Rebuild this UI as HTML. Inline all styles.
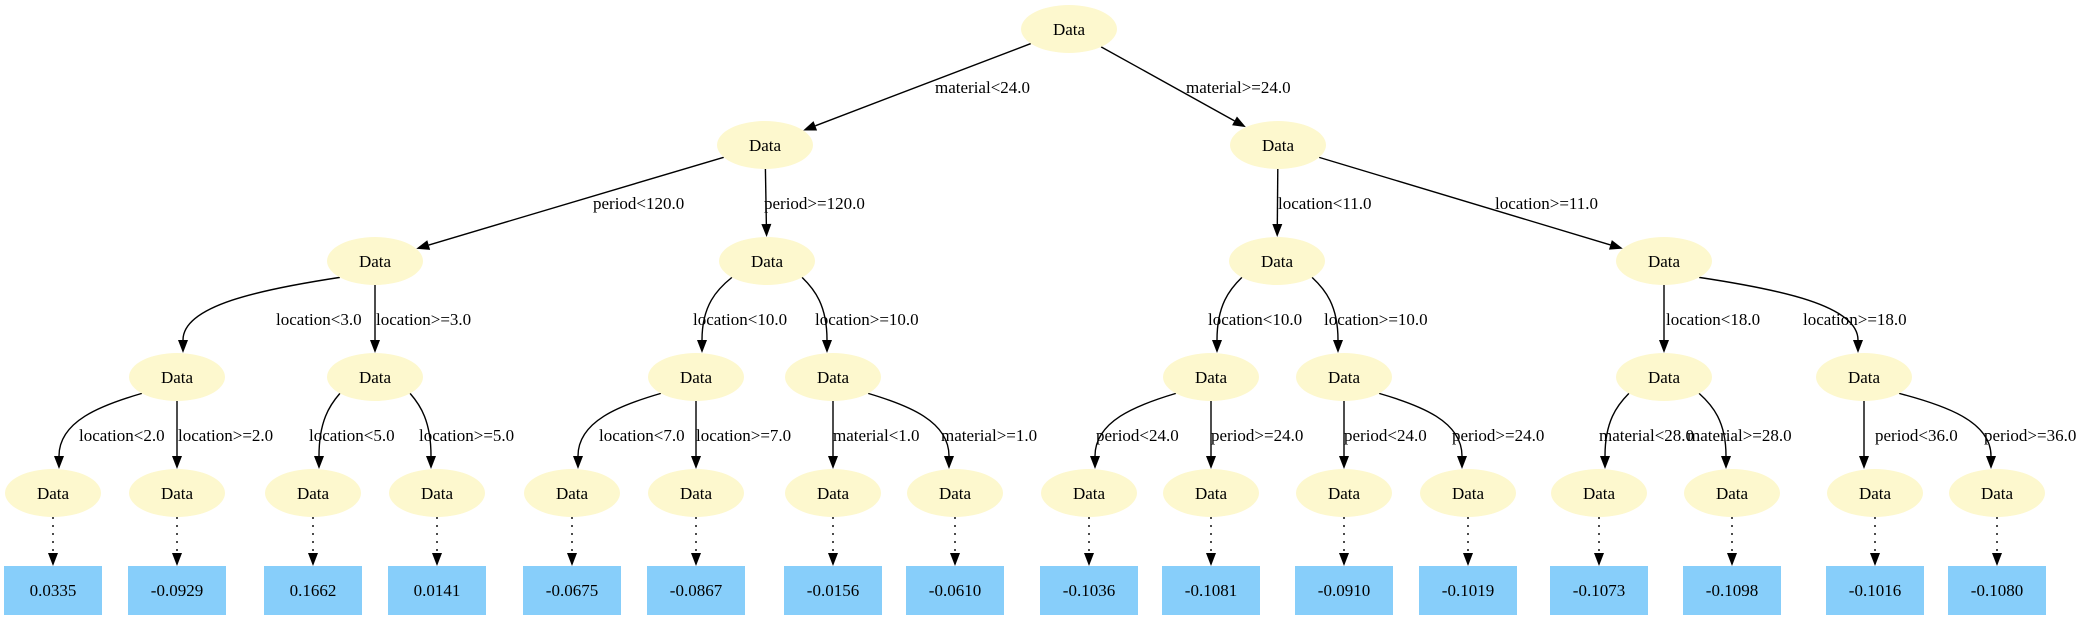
<!DOCTYPE html>
<html><head><meta charset="utf-8"><style>
html,body{margin:0;padding:0;background:#fff;}
svg{display:block;}
text{font-family:"Liberation Serif",serif;font-size:17px;fill:#000;}
.n{fill:#fdf8ce;}
.b{fill:#87cefa;}
</style></head><body>
<svg id="s" width="2091" height="620" viewBox="0 0 2091 620" xmlns="http://www.w3.org/2000/svg">
<g id="edges" stroke="#000" stroke-width="1.4" fill="none"></g>
<g id="heads" fill="#000"></g>
<g id="nodes">
<ellipse class="n" cx="1069" cy="29" rx="48" ry="24"/>
<ellipse class="n" cx="765" cy="145" rx="48" ry="24"/>
<ellipse class="n" cx="1278" cy="145" rx="48" ry="24"/>
<ellipse class="n" cx="375" cy="261" rx="48" ry="24"/>
<ellipse class="n" cx="767" cy="261" rx="48" ry="24"/>
<ellipse class="n" cx="1277" cy="261" rx="48" ry="24"/>
<ellipse class="n" cx="1664" cy="261" rx="48" ry="24"/>
<ellipse class="n" cx="177" cy="377" rx="48" ry="24"/>
<ellipse class="n" cx="375" cy="377" rx="48" ry="24"/>
<ellipse class="n" cx="696" cy="377" rx="48" ry="24"/>
<ellipse class="n" cx="833" cy="377" rx="48" ry="24"/>
<ellipse class="n" cx="1211" cy="377" rx="48" ry="24"/>
<ellipse class="n" cx="1344" cy="377" rx="48" ry="24"/>
<ellipse class="n" cx="1664" cy="377" rx="48" ry="24"/>
<ellipse class="n" cx="1864" cy="377" rx="48" ry="24"/>
<ellipse class="n" cx="53" cy="493" rx="48" ry="24"/>
<ellipse class="n" cx="177" cy="493" rx="48" ry="24"/>
<ellipse class="n" cx="313" cy="493" rx="48" ry="24"/>
<ellipse class="n" cx="437" cy="493" rx="48" ry="24"/>
<ellipse class="n" cx="572" cy="493" rx="48" ry="24"/>
<ellipse class="n" cx="696" cy="493" rx="48" ry="24"/>
<ellipse class="n" cx="833" cy="493" rx="48" ry="24"/>
<ellipse class="n" cx="955" cy="493" rx="48" ry="24"/>
<ellipse class="n" cx="1089" cy="493" rx="48" ry="24"/>
<ellipse class="n" cx="1211" cy="493" rx="48" ry="24"/>
<ellipse class="n" cx="1344" cy="493" rx="48" ry="24"/>
<ellipse class="n" cx="1468" cy="493" rx="48" ry="24"/>
<ellipse class="n" cx="1599" cy="493" rx="48" ry="24"/>
<ellipse class="n" cx="1732" cy="493" rx="48" ry="24"/>
<ellipse class="n" cx="1875" cy="493" rx="48" ry="24"/>
<ellipse class="n" cx="1997" cy="493" rx="48" ry="24"/>
</g>
<g text-anchor="middle">
<text x="1069" y="35">Data</text>
<text x="765" y="151">Data</text><text x="1278" y="151">Data</text>
<text x="375" y="267">Data</text><text x="767" y="267">Data</text><text x="1277" y="267">Data</text><text x="1664" y="267">Data</text>
<text x="177" y="383">Data</text><text x="375" y="383">Data</text><text x="696" y="383">Data</text><text x="833" y="383">Data</text><text x="1211" y="383">Data</text><text x="1344" y="383">Data</text><text x="1664" y="383">Data</text><text x="1864" y="383">Data</text>
<text x="53" y="499">Data</text><text x="177" y="499">Data</text><text x="313" y="499">Data</text><text x="437" y="499">Data</text><text x="572" y="499">Data</text><text x="696" y="499">Data</text><text x="833" y="499">Data</text><text x="955" y="499">Data</text><text x="1089" y="499">Data</text><text x="1211" y="499">Data</text><text x="1344" y="499">Data</text><text x="1468" y="499">Data</text><text x="1599" y="499">Data</text><text x="1732" y="499">Data</text><text x="1875" y="499">Data</text><text x="1997" y="499">Data</text>
</g>
<g id="boxes">
<rect class="b" x="4" y="566" width="98" height="49"/><rect class="b" x="128" y="566" width="98" height="49"/><rect class="b" x="264" y="566" width="98" height="49"/><rect class="b" x="388" y="566" width="98" height="49"/><rect class="b" x="523" y="566" width="98" height="49"/><rect class="b" x="647" y="566" width="98" height="49"/><rect class="b" x="784" y="566" width="98" height="49"/><rect class="b" x="906" y="566" width="98" height="49"/><rect class="b" x="1040" y="566" width="98" height="49"/><rect class="b" x="1162" y="566" width="98" height="49"/><rect class="b" x="1295" y="566" width="98" height="49"/><rect class="b" x="1419" y="566" width="98" height="49"/><rect class="b" x="1550" y="566" width="98" height="49"/><rect class="b" x="1683" y="566" width="98" height="49"/><rect class="b" x="1826" y="566" width="98" height="49"/><rect class="b" x="1948" y="566" width="98" height="49"/>
</g>
<g text-anchor="middle">
<text x="53" y="596">0.0335</text><text x="177" y="596">-0.0929</text><text x="313" y="596">0.1662</text><text x="437" y="596">0.0141</text><text x="572" y="596">-0.0675</text><text x="696" y="596">-0.0867</text><text x="833" y="596">-0.0156</text><text x="955" y="596">-0.0610</text><text x="1089" y="596">-0.1036</text><text x="1211" y="596">-0.1081</text><text x="1344" y="596">-0.0910</text><text x="1468" y="596">-0.1019</text><text x="1599" y="596">-0.1073</text><text x="1732" y="596">-0.1098</text><text x="1875" y="596">-0.1016</text><text x="1997" y="596">-0.1080</text>
</g>
<g>
<text x="935" y="93">material&lt;24.0</text><text x="1186" y="93">material&gt;=24.0</text>
<text x="593" y="209">period&lt;120.0</text><text x="764" y="209">period&gt;=120.0</text><text x="1278" y="209">location&lt;11.0</text><text x="1495" y="209">location&gt;=11.0</text>
<text x="276" y="325">location&lt;3.0</text><text x="376" y="325">location&gt;=3.0</text><text x="693" y="325">location&lt;10.0</text><text x="815" y="325">location&gt;=10.0</text><text x="1208" y="325">location&lt;10.0</text><text x="1324" y="325">location&gt;=10.0</text><text x="1666" y="325">location&lt;18.0</text><text x="1803" y="325">location&gt;=18.0</text>
<text x="79" y="441">location&lt;2.0</text><text x="178" y="441">location&gt;=2.0</text><text x="309" y="441">location&lt;5.0</text><text x="419" y="441">location&gt;=5.0</text><text x="599" y="441">location&lt;7.0</text><text x="696" y="441">location&gt;=7.0</text><text x="833" y="441">material&lt;1.0</text><text x="941" y="441">material&gt;=1.0</text><text x="1096" y="441">period&lt;24.0</text><text x="1211" y="441">period&gt;=24.0</text><text x="1344" y="441">period&lt;24.0</text><text x="1452" y="441">period&gt;=24.0</text><text x="1599" y="441">material&lt;28.0</text><text x="1687" y="441">material&gt;=28.0</text><text x="1875" y="441">period&lt;36.0</text><text x="1984" y="441">period&gt;=36.0</text>
</g>
</svg>
<script>
(function(){
var E=[[1069,29,765,145,1],[1069,29,1278,145,1],[765,145,375,261,1],[765,145,767,261,1],[1278,145,1277,261,1],[1278,145,1664,261,1],
[375,261,177,377],[375,261,375,377],[767,261,696,377],[767,261,833,377],[1277,261,1211,377],[1277,261,1344,377],[1664,261,1664,377],[1664,261,1864,377],
[177,377,53,493],[177,377,177,493],[375,377,313,493],[375,377,437,493],[696,377,572,493],[696,377,696,493],[833,377,833,493],[833,377,955,493],
[1211,377,1089,493],[1211,377,1211,493],[1344,377,1344,493],[1344,377,1468,493],[1664,377,1599,493],[1664,377,1732,493],[1864,377,1864,493],[1864,377,1997,493]];
var ns="http://www.w3.org/2000/svg",eg=document.getElementById('edges'),hg=document.getElementById('heads');
var rx=48,ry=24,AL=13,AW=5;
function bnd(cx,cy,dx,dy){var t=1/Math.sqrt(dx*dx/(rx*rx)+dy*dy/(ry*ry));return [cx+dx*t,cy+dy*t];}
function head(x,y,ux,uy){var p=document.createElementNS(ns,'polygon');var bx=x-ux*AL,by=y-uy*AL;
p.setAttribute('points',x+','+y+' '+(bx-uy*AW)+','+(by+ux*AW)+' '+(bx+uy*AW)+','+(by-ux*AW));hg.appendChild(p);}
function path(d,dash){var p=document.createElementNS(ns,'path');p.setAttribute('d',d);if(dash)p.setAttribute('stroke-dasharray','2,6');eg.appendChild(p);}
E.forEach(function(e){var px=e[0],py=e[1],cx=e[2],cy=e[3],dx=cx-px,dy=cy-py;
 if(Math.abs(dx)<4||e[4]){var s=bnd(px,py,dx,dy),t=bnd(cx,cy,-dx,-dy);var L=Math.hypot(t[0]-s[0],t[1]-s[1]);var ux=(t[0]-s[0])/L,uy=(t[1]-s[1])/L;
  path('M'+s[0]+','+s[1]+' L'+(t[0]-ux*AL)+','+(t[1]-uy*AL));head(t[0],t[1],ux,uy);}
 else{var sg=dx>0?1:-1;var s=bnd(px,py,sg*rx*0.75,ry*0.7);var ex=cx-sg*6,ey=cy-ry;
  var e2y=ey-AL;path('M'+s[0]+','+s[1]+' C'+(s[0]+(ex-s[0])*0.5)+','+(s[1]+12)+' '+ex+','+(s[1]+28)+' '+ex+','+e2y);head(ex,ey,0,1);}
});
[53,177,313,437,572,696,833,955,1089,1211,1344,1468,1599,1732,1875,1997].forEach(function(x){path('M'+x+',517 L'+x+',553',true);head(x,566,0,1);});
})();
</script>
</body></html>
